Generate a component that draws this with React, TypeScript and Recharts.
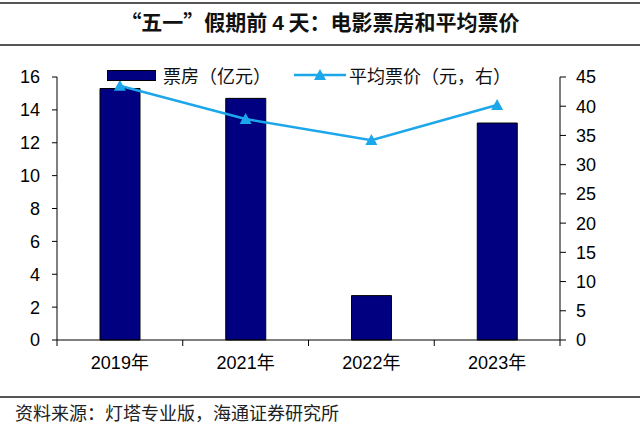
import { ComposedChart, Bar, Line, XAxis, YAxis } from "recharts";

const years = ["2019年", "2021年", "2022年", "2023年"];
const boxOffice = [15.3, 14.7, 2.7, 13.2];
const avgPrice = [43.5, 37.8, 34.2, 40.2];
const leftTicks = [0, 2, 4, 6, 8, 10, 12, 14, 16];
const rightTicks = [0, 5, 10, 15, 20, 25, 30, 35, 40, 45];

const data = years.map((year, i) => ({
  year,
  boxOffice: boxOffice[i],
  avgPrice: avgPrice[i],
}));

const NAVY = "#000080";
const BLUE = "#1CA7EA";
const NUM_FONT = "'Liberation Sans', Arial, 'Noto Sans CJK SC', sans-serif";
const CJK_FONT = "'Noto Sans CJK SC', sans-serif";

function YearTick(props: any) {
  const { x, y, payload, visibleTicksCount } = props;
  const half = payload.offset || 0;
  const isLast = payload.index === visibleTicksCount - 1;
  return (
    <g>
      <line x1={x - half} x2={x - half} y1={y - 6} y2={y} stroke="#000" />
      {isLast && <line x1={x + half} x2={x + half} y1={y - 6} y2={y} stroke="#000" />}
      <text x={x} y={y + 23} textAnchor="middle" fontSize={18} fill="#000" fontFamily={NUM_FONT}>
        {payload.value}
      </text>
    </g>
  );
}

function Triangle(props: any) {
  const { cx, cy } = props;
  if (cx == null || cy == null) return null;
  return (
    <polygon
      points={`${cx},${cy - 6} ${cx - 6},${cy + 5} ${cx + 6},${cy + 5}`}
      fill={BLUE}
    />
  );
}

export default function App() {
  return (
    <div style={{ position: "absolute", left: 0, top: 0, width: 640, height: 434, background: "#fff" }}>
      {/* title band */}
      <div style={{ position: "absolute", left: 0, top: 2, width: 640, height: 2, background: "#555" }} />
      <div
        style={{
          position: "absolute",
          left: 0,
          top: 6,
          width: 640,
          textAlign: "center",
          fontFamily: CJK_FONT,
          fontWeight: 700,
          fontSize: 21,
          lineHeight: "30px",
          color: "#111",
        }}
      >
        “五一”假期前 <span style={{ fontFamily: NUM_FONT }}>4</span> 天：电影票房和平均票价
      </div>
      <div style={{ position: "absolute", left: 0, top: 44, width: 640, height: 2, background: "#555" }} />

      <ComposedChart
        width={640}
        height={434}
        data={data}
        margin={{ top: 77, right: 0, bottom: 64, left: 0 }}
        style={{ position: "absolute", left: 0, top: 0 }}
      >
        <XAxis
          dataKey="year"
          xAxisId="x"
          height={30}
          axisLine={{ stroke: "#000" }}
          tickLine={false}
          tickSize={6}
          tickMargin={0}
          tick={<YearTick />}
          interval={0}
        />
        <YAxis
          yAxisId="left"
          width={57}
          domain={[0, 16]}
          ticks={leftTicks}
          interval={0}
          axisLine={{ stroke: "#000" }}
          tickLine={{ stroke: "#000" }}
          tickSize={5}
          tickMargin={12}
          tick={{ fontSize: 18, fill: "#000", fontFamily: NUM_FONT }}
        />
        <YAxis
          yAxisId="right"
          orientation="right"
          width={80}
          domain={[0, 45]}
          ticks={rightTicks}
          interval={0}
          axisLine={{ stroke: "#000" }}
          tickLine={{ stroke: "#000" }}
          tickSize={6}
          tickMargin={10}
          tick={{ fontSize: 18, fill: "#000", fontFamily: NUM_FONT, textAnchor: "start" }}
        />
        <Bar
          dataKey="boxOffice"
          xAxisId="x"
          yAxisId="left"
          fill={NAVY}
          stroke="#000"
          strokeWidth={1}
          barSize={40}
          isAnimationActive={false}
        />
        <Line
          dataKey="avgPrice"
          xAxisId="x"
          yAxisId="right"
          stroke={BLUE}
          strokeWidth={2.5}
          dot={<Triangle />}
          activeDot={false}
          isAnimationActive={false}
        />
      </ComposedChart>

      {/* legend */}
      <div style={{ position: "absolute", left: 107, top: 70, width: 49, height: 11, background: NAVY, border: "1px solid #000", boxSizing: "border-box" }} />
      <div style={{ position: "absolute", left: 163, top: 63, fontFamily: CJK_FONT, fontSize: 18, lineHeight: "24px", color: "#111" }}>
        票房（亿元）
      </div>
      <svg style={{ position: "absolute", left: 294, top: 65 }} width={54} height={20}>
        <line x1={0} x2={52} y1={10} y2={10} stroke={BLUE} strokeWidth={2.5} />
        <polygon points="26,4 20,15 32,15" fill={BLUE} />
      </svg>
      <div style={{ position: "absolute", left: 349, top: 63, fontFamily: CJK_FONT, fontSize: 18, lineHeight: "24px", color: "#111" }}>
        平均票价（元，右）
      </div>

      {/* source */}
      <div style={{ position: "absolute", left: 0, top: 396, width: 640, height: 2, background: "#555" }} />
      <div style={{ position: "absolute", left: 15, top: 400, fontFamily: CJK_FONT, fontSize: 18, lineHeight: "24px", color: "#222" }}>
        资料来源：灯塔专业版，海通证券研究所
      </div>
    </div>
  );
}
